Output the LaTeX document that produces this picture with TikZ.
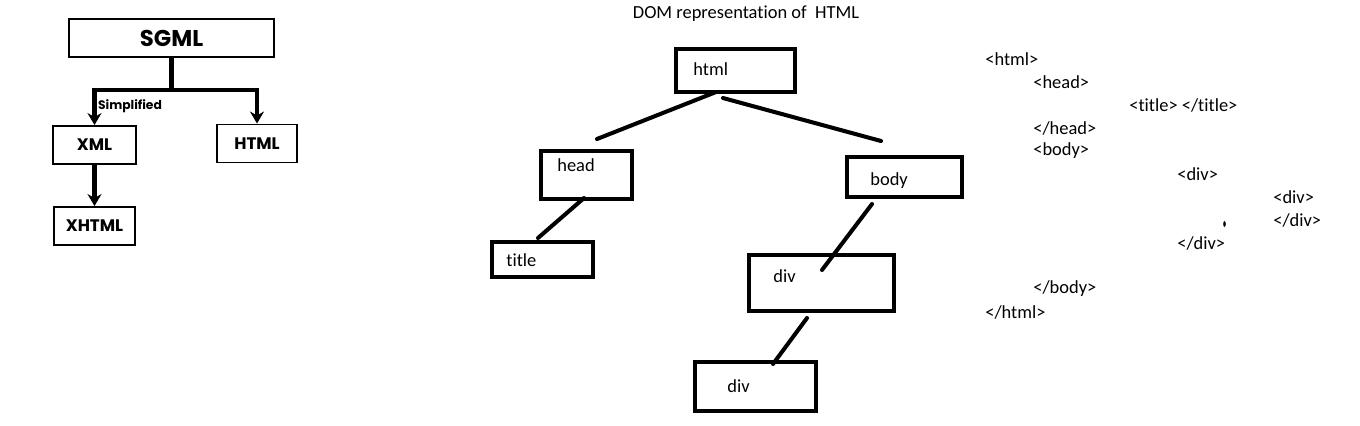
\documentclass[tikz,border=0pt]{standalone}
\usepackage{fontspec}
\setmainfont{Carlito}[Ligatures=NoCommon]
\newfontfamily\handfont{Poppins}
\usetikzlibrary{arrows.meta}
\begin{document}
\begin{tikzpicture}[x=0.02cm, y=-0.02cm,
  lang/.style = {draw, line width=1.1pt, inner sep=0pt, minimum height=0.76cm, font=\handfont\bfseries\fontsize{9.5}{11}\selectfont},
  dom/.style = {draw, line width=2.3pt, inner sep=0pt},
  txt/.style = {anchor=west, inner sep=0pt, font=\fontsize{10.5}{12}\selectfont},
  link/.style = {line width=2.3pt, line cap=round},
  arr/.style = {line width=2.5pt, -{Stealth[length=2.4mm, width=2.8mm, inset=0.8mm]}}]
\useasboundingbox (0,0) rectangle (1360,426);

\node[lang, minimum width=4.1cm, font=\handfont\bfseries\fontsize{13}{15}\selectfont] (sgml) at (171.5,38) {SGML};
\node[lang, minimum width=1.66cm] (xml) at (94.5,145) {XML};
\node[lang, minimum width=1.6cm] (htmlx) at (257,143.5) {HTML};
\node[lang, minimum width=1.62cm] (xhtml) at (94.5,226) {XHTML};
\coordinate (split) at (171.5,90);

\draw[line width=2.5pt] (sgml.south) -- (split);
\draw[arr] (split) -| (xml.north);
\draw[arr] (split) -| (htmlx.north);
\draw[arr] (xml.south) -- (xhtml.north);
\node[font=\handfont\bfseries\fontsize{7}{8}\selectfont, inner sep=0pt] (simp) at (130,106) {Simplified};

\node[inner sep=0pt, font=\fontsize{10.5}{12}\selectfont] (domtitle) at (746,14) {DOM representation of \ HTML};

\node[dom, minimum width=2.38cm, minimum height=0.86cm] (dhtml) at (735.5,70.5) {};
\node[dom, minimum width=1.82cm, minimum height=0.96cm] (dhead) at (586.5,175) {};
\node[dom, minimum width=2.3cm, minimum height=0.8cm] (dbody) at (904.5,177) {};
\node[dom, minimum width=2.02cm, minimum height=0.7cm] (dtitle) at (542.5,259.5) {};
\node[dom, minimum width=2.9cm, minimum height=1.12cm] (ddiv) at (821.5,283) {};
\node[dom, minimum width=2.42cm, minimum height=0.98cm] (dsubdiv) at (755.5,386.5) {};

\node[txt] at (693,69) {html};
\node[txt] at (557,165) {head};
\node[txt] at (870,181) {body};
\node[txt] at (506,260) {title};
\node[txt] at (773,276) {div};
\node[txt] at (727,386) {div};

\coordinate (headend) at (597,139);
\coordinate (bodyend) at (881,141);
\coordinate (titleend) at (538,238);
\coordinate (divend) at (822,270);
\coordinate (subdivend) at (773,364);

\draw[link] ([xshift=-0.39cm, yshift=0.04cm]dhtml.south) -- (headend);
\draw[link] ([xshift=-0.25cm, yshift=-0.08cm]dhtml.south) -- (bodyend);
\draw[link] ([xshift=-0.05cm, yshift=0.06cm]dhead.south) -- (titleend);
\draw[link] ([xshift=-0.65cm, yshift=-0.1cm]dbody.south) -- (divend);
\draw[link] ([xshift=-0.29cm, yshift=-0.1cm]ddiv.south) -- (subdivend);

\node[txt] (t1) at (985,59) {<html>};
\node[txt] (t2) at (1033,82) {<head>};
\node[txt] (t3) at (1129,105) {<title> </title>};
\node[txt] (t4) at (1033,128) {</head>};
\node[txt] (t5) at (1033,151) {<body>};
\node[txt] (t6) at (1177,174) {<div>};
\node[txt] (t7) at (1273,197) {<div>};
\node[txt] (t8) at (1273,220) {</div>};
\node[txt] (t9) at (1177,243) {</div>};
\node[txt] (t10) at (1033,289) {</body>};
\node[txt] (t11) at (985,312) {</html>};
\fill (1224.5,224) ellipse (1.3 and 2.8);
\end{tikzpicture}
\end{document}
